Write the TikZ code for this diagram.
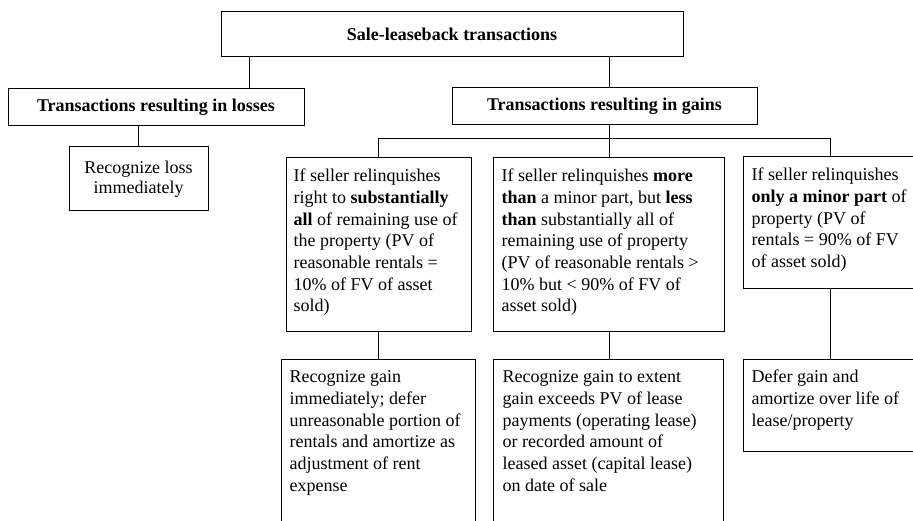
\documentclass[tikz,border=0pt]{standalone}
\usepackage{fontspec}
\setmainfont{Liberation Serif}
\begin{document}
\begin{tikzpicture}[x=1pt,y=-1pt,
  frame/.style={draw, line width=1pt, inner sep=0pt, rectangle},
  boxtxt/.style={inner sep=0pt, anchor=north west, align=left,
    font=\fontsize{18}{21.7}\selectfont},
  headtxt/.style={font=\fontsize{18}{21.7}\selectfont\bfseries},
  conn/.style={line width=1pt}]
\fill[white] (0,0) rectangle (913,521);
\useasboundingbox (0,0) rectangle (913,521);
\clip (0,0) rectangle (913,521);

% top level
\node[frame, minimum width=462pt, minimum height=45pt, headtxt] (top) at (452,34.5) {Sale-leaseback transactions};
\node[frame, minimum width=296pt, minimum height=37pt, headtxt] (loss) at (156,107.5) {Transactions resulting in losses};
\node[frame, minimum width=305pt, minimum height=37pt, headtxt] (gain) at (604.5,106.5) {Transactions resulting in gains};
\node[frame, minimum width=139pt, minimum height=64pt, align=center, font=\fontsize{18}{20.5}\selectfont] (rloss) at (138.5,179) {Recognize loss\\immediately};

% conditions
\node[frame, minimum width=185pt, minimum height=174pt] (c1) at (378.5,245) {};
\node[frame, minimum width=231pt, minimum height=174pt] (c2) at (608.5,245) {};
\node[frame, minimum width=185pt, minimum height=132pt] (c3) at (835.5,223) {};

% results
\node[frame, minimum width=194pt, minimum height=190pt] (r1) at (378,454) {};
\node[frame, minimum width=230pt, minimum height=190pt] (r2) at (608,454) {};
\node[frame, minimum width=185pt, minimum height=92pt] (r3) at (835.5,405) {};

% texts
\node[boxtxt] (t1) at ([xshift=8pt,yshift=-8.8pt]c1.north west) {\strut If seller relinquishes\\right to \textbf{substantially}\\\textbf{all} of remaining use of\\the property (PV of\\reasonable rentals =\\10\% of FV of asset\\sold)};
\node[boxtxt] (t2) at ([xshift=9pt,yshift=-8.8pt]c2.north west) {\strut If seller relinquishes \textbf{more}\\\textbf{than} a minor part, but \textbf{less}\\\textbf{than} substantially all of\\remaining use of property\\(PV of reasonable rentals >\\10\% but < 90\% of FV of\\asset sold)};
\node[boxtxt] (t3) at ([xshift=9pt,yshift=-8.8pt]c3.north west) {\strut If seller relinquishes\\\textbf{only a minor part} of\\property (PV of\\rentals = 90\% of FV\\of asset sold)};
\node[boxtxt] (t4) at ([xshift=9pt,yshift=-8.8pt]r1.north west) {\strut Recognize gain\\immediately; defer\\unreasonable portion of\\rentals and amortize as\\adjustment of rent\\expense};
\node[boxtxt] (t5) at ([xshift=10pt,yshift=-8.8pt]r2.north west) {\strut Recognize gain to extent\\gain exceeds PV of lease\\payments (operating lease)\\or recorded amount of\\leased asset (capital lease)\\on date of sale};
\node[boxtxt] (t6) at ([xshift=9pt,yshift=-8.8pt]r3.north west) {\strut Defer gain and\\amortize over life of\\lease/property};

% connector anchor columns
\coordinate (xa) at (249,0);
\coordinate (xb) at (609,0);
\coordinate (xc) at (378,0);
\coordinate (xd) at (830,0);
\coordinate (bus) at (0,139);

\draw[conn] (top.south -| xa) -- (loss.north -| xa);
\draw[conn] (top.south -| xb) -- (gain.north -| xb);
\draw[conn] (loss.south -| rloss.north) -- (rloss.north);
\draw[conn] (gain.south -| xb) -- (bus -| xb);
\draw[conn] (c1.north -| xc) -- (bus -| xc) -- (bus -| xd) -- (c3.north -| xd);
\draw[conn] (bus -| xb) -- (c2.north -| xb);
\draw[conn] (c1.south -| xc) -- (r1.north -| xc);
\draw[conn] (c2.south -| xb) -- (r2.north -| xb);
\draw[conn] (c3.south -| xd) -- (r3.north -| xd);
\end{tikzpicture}
\end{document}
